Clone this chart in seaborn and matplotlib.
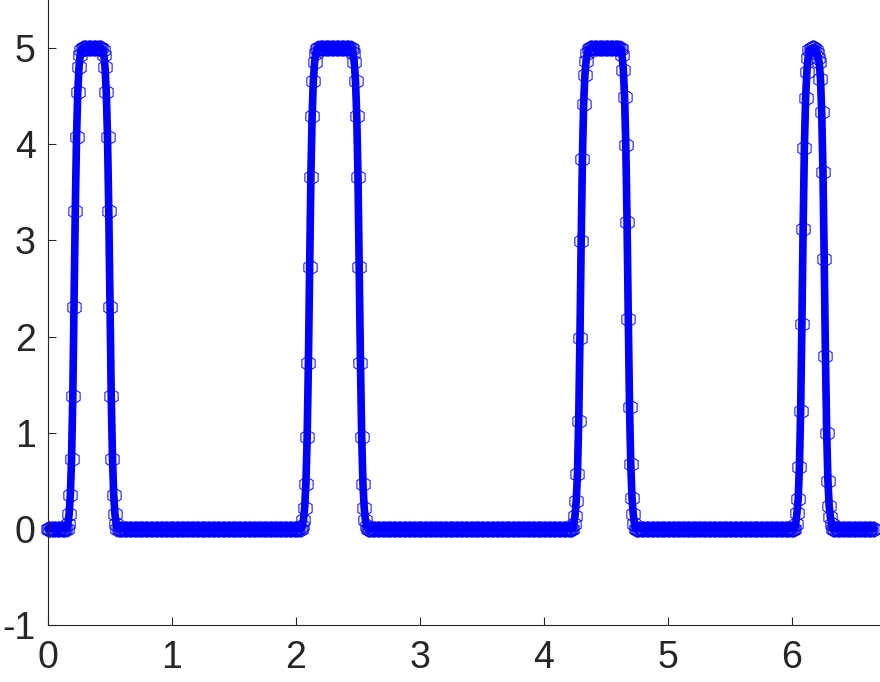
import matplotlib
matplotlib.use('Agg')
import matplotlib.pyplot as plt
import numpy as np
import pandas as pd
import seaborn as sns

# sample grid (regular spacing)
x_step = 0.01
x_last = 6.66

# start position of every pulse and its sample values (baseline is 0 elsewhere)
pulse_starts = [0.16, 2.05, 4.24, 6.03]

pulse1 = ([0.05, 0.15, 0.35, 0.73, 1.38, 2.31, 3.31, 4.07, 4.54, 4.80, 4.93, 4.98]
          + [5.0] * 16
          + [4.98, 4.93, 4.80, 4.54, 4.07, 3.31, 2.31, 1.38, 0.73, 0.35, 0.15, 0.05])
pulse2 = ([0.03, 0.09, 0.22, 0.47, 0.95, 1.72, 2.72, 3.66, 4.29, 4.66, 4.85, 4.95, 4.99]
          + [5.0] * 27
          + [4.99, 4.95, 4.85, 4.66, 4.29, 3.66, 2.72, 1.72, 0.95, 0.47, 0.22, 0.09, 0.03])
pulse3 = ([0.05, 0.13, 0.29, 0.57, 1.12, 1.98, 2.99, 3.85, 4.42, 4.72, 4.87, 4.95, 4.99]
          + [5.0] * 25
          + [4.99, 4.93, 4.77, 4.49, 3.99, 3.19, 2.18, 1.27, 0.67, 0.32, 0.15, 0.05])
pulse4 = [0.05, 0.16, 0.31, 0.64, 1.23, 2.13, 3.12, 3.96, 4.48, 4.75, 4.90, 4.98,
          4.99, 5.0, 5.0, 5.0, 4.98, 4.95, 4.90, 4.85, 4.68, 4.33, 3.71, 2.81,
          1.80, 1.00, 0.50, 0.24, 0.12, 0.05]

x_ticks = [0, 1, 2, 3, 4, 5, 6]
y_ticks = [-1, 0, 1, 2, 3, 4, 5]


def build_frame():
	n = int(round(x_last / x_step)) + 1
	x = np.round(np.arange(n) * x_step, 2)
	y = np.zeros(n)
	for start, vals in zip(pulse_starts, [pulse1, pulse2, pulse3, pulse4]):
		i = int(round(start / x_step))
		y[i:i + len(vals)] = vals
	return pd.DataFrame({'x': x, 'y': y})


def main():
	df = build_frame()

	sns.set_style('white')
	plt.rcParams['font.family'] = ['Liberation Sans', 'DejaVu Sans']
	plt.rcParams['axes.unicode_minus'] = False

	fig = plt.figure(figsize=(8.8, 6.82), dpi=100)
	ax = fig.add_axes([48 / 880, 57 / 682, 1 - 48 / 880, 1 - 57 / 682])

	sns.lineplot(data=df, x='x', y='y', ax=ax, estimator=None, sort=False,
				 color='blue', linewidth=5.5, marker='h', markersize=11,
				 markerfacecolor='none', markeredgecolor='blue',
				 markeredgewidth=0.7, clip_on=False)

	ax.set_xlim(0, 6.71)
	ax.set_ylim(-1, 5.5)
	ax.set_xticks(x_ticks)
	ax.set_yticks(y_ticks)
	ax.set_xlabel('')
	ax.set_ylabel('')

	for side in ['top', 'right']:
		ax.spines[side].set_visible(False)
	for side in ['left', 'bottom']:
		ax.spines[side].set_color('#262626')
		ax.spines[side].set_linewidth(0.8)

	ax.tick_params(axis='both', direction='in', length=6, width=0.8,
				   bottom=True, left=True,
				   color='#262626', labelcolor='#262626', labelsize=27)
	ax.tick_params(axis='x', pad=11)
	ax.tick_params(axis='y', pad=9)

	fig.savefig('out.png', dpi=100)


if __name__ == "__main__":
	main()
